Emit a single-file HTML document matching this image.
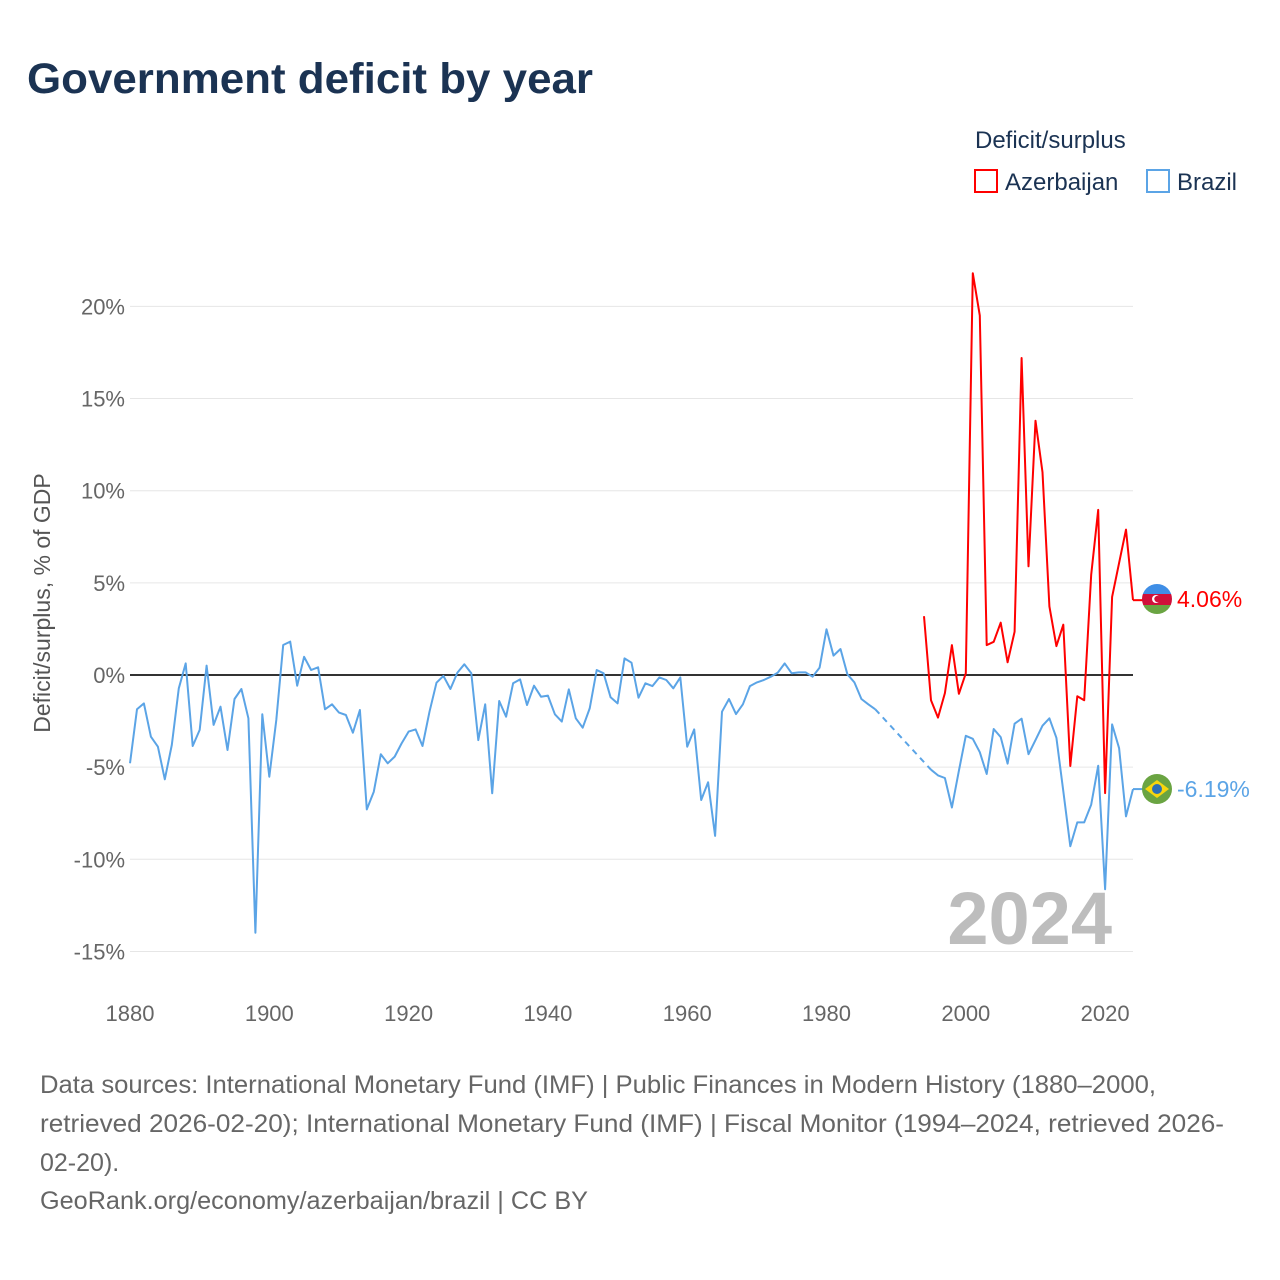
<!DOCTYPE html>
<html><head><meta charset="utf-8"><style>
html,body{margin:0;padding:0;background:#fff;width:1280px;height:1280px;overflow:hidden;font-family:"Liberation Sans",sans-serif}
</style></head><body>
<svg id="chart" width="1280" height="1280" xmlns="http://www.w3.org/2000/svg" style="position:absolute;left:0;top:0">
<text x="27" y="93" font-size="43" font-weight="bold" fill="#1b3353" textLength="566" lengthAdjust="spacingAndGlyphs" font-family="Liberation Sans, sans-serif">Government deficit by year</text>
<text x="975" y="148" font-size="24" fill="#1b3353">Deficit/surplus</text>
<g><rect x="975" y="170" width="22" height="22" fill="none" stroke="#ff0000" stroke-width="2"/><text x="1005" y="190" font-size="24" fill="#1b3353">Azerbaijan</text></g>
<g><rect x="1147" y="170" width="22" height="22" fill="none" stroke="#5ba4e6" stroke-width="2"/><text x="1177" y="190" font-size="24" fill="#1b3353">Brazil</text></g>
<text transform="translate(50,603) rotate(-90)" text-anchor="middle" font-size="23" fill="#555">Deficit/surplus, % of GDP</text>
<text x="1112" y="944" text-anchor="end" font-size="74" font-weight="bold" fill="#bdbdbd">2024</text>
<g id="grid"></g><g id="marks"></g>
<g>
<clipPath id="ca"><circle cx="1157" cy="599" r="15"/></clipPath>
<g clip-path="url(#ca)"><rect x="1140" y="583" width="34" height="11" fill="#3f8ee6"/><rect x="1140" y="594" width="34" height="11" fill="#d0103a"/><rect x="1140" y="605" width="34" height="12" fill="#6aa442"/></g>
<circle cx="1156" cy="599" r="4" fill="#fff"/><circle cx="1157.5" cy="599" r="3.2" fill="#d0103a"/>
</g>
<text x="1177" y="607" font-size="23" fill="#ff0000">4.06%</text>
<g>
<circle cx="1157" cy="789" r="15" fill="#6aa442"/><polygon points="1145,789 1157,780 1169,789 1157,798" fill="#f6d60e"/><circle cx="1157" cy="789" r="5" fill="#2c6fb6"/>
</g>
<text x="1177" y="797" font-size="23" fill="#5ba4e6">-6.19%</text>
<g font-size="25" fill="#666">
<text x="40" y="1093" textLength="1116" lengthAdjust="spacingAndGlyphs">Data sources: International Monetary Fund (IMF) | Public Finances in Modern History (1880–2000,</text>
<text x="40" y="1132" textLength="1184" lengthAdjust="spacingAndGlyphs">retrieved 2026-02-20); International Monetary Fund (IMF) | Fiscal Monitor (1994–2024, retrieved 2026-</text>
<text x="40" y="1171">02-20).</text>
<text x="40" y="1209" textLength="548" lengthAdjust="spacingAndGlyphs">GeoRank.org/economy/azerbaijan/brazil | CC BY</text>
</g>
</svg>
<script>
const yTicks=[20,15,10,5,0,-5,-10,-15];
const xTicks=[1880,1900,1920,1940,1960,1980,2000,2020];
const brazilYears1=[];for(let y=1880;y<=1987;y++)brazilYears1.push(y);
const brazilValues1=[-4.79,-1.86,-1.54,-3.35,-3.89,-5.66,-3.80,-0.72,0.63,-3.85,-2.98,0.51,-2.71,-1.72,-4.07,-1.30,-0.76,-2.35,-13.98,-2.13,-5.52,-2.44,1.63,1.81,-0.58,0.99,0.27,0.42,-1.86,-1.59,-2.04,-2.17,-3.13,-1.90,-7.29,-6.33,-4.30,-4.79,-4.43,-3.71,-3.07,-2.95,-3.85,-1.99,-0.42,-0.05,-0.76,0.13,0.58,0.09,-3.53,-1.59,-6.42,-1.41,-2.26,-0.45,-0.24,-1.63,-0.58,-1.18,-1.12,-2.13,-2.53,-0.78,-2.35,-2.86,-1.81,0.27,0.09,-1.21,-1.54,0.90,0.67,-1.23,-0.45,-0.60,-0.13,-0.27,-0.72,-0.13,-3.89,-2.95,-6.78,-5.82,-8.73,-1.99,-1.30,-2.12,-1.59,-0.60,-0.40,-0.27,-0.09,0.13,0.63,0.09,0.14,0.14,-0.09,0.40,2.48,1.05,1.41,0.04,-0.40,-1.30,-1.59,-1.86];
const brazilYears2=[];for(let y=1995;y<=2024;y++)brazilYears2.push(y);
const brazilValues2=[-5.14,-5.45,-5.59,-7.19,-5.19,-3.30,-3.46,-4.19,-5.37,-2.93,-3.37,-4.81,-2.64,-2.37,-4.30,-3.53,-2.75,-2.35,-3.41,-6.30,-9.29,-8.00,-8.00,-7.03,-4.92,-11.62,-2.68,-3.97,-7.67,-6.19];
const azYears=[];for(let y=1994;y<=2024;y++)azYears.push(y);
const azValues=[3.19,-1.37,-2.31,-0.98,1.62,-1.02,0.09,21.8,19.5,1.62,1.80,2.84,0.69,2.35,17.2,5.9,13.8,11.0,3.72,1.57,2.73,-4.94,-1.15,-1.37,5.45,8.96,-6.41,4.24,6.08,7.89,4.06];

const NS='http://www.w3.org/2000/svg';
const X0=130,X1=1133,Y0=675,PPU=18.43;
const xs=y=>X0+(y-1880)*(X1-X0)/144;
const ys=v=>Y0-v*PPU;
function mk(tag,attrs,parent){const e=document.createElementNS(NS,tag);for(const k in attrs)e.setAttribute(k,attrs[k]);parent.appendChild(e);return e;}
const grid=document.getElementById('grid'),marks=document.getElementById('marks');
yTicks.forEach(t=>{
 const l=mk('line',{x1:X0,x2:X1,y1:ys(t),y2:ys(t),stroke:t===0?'#333':'#e6e6e6','stroke-width':t===0?2:1},grid);
 
 
 const tx=mk('text',{x:125,y:ys(t)+8,'text-anchor':'end','font-size':22,fill:'#666'},grid);
 tx.textContent=t+'%';
 
 
});
xTicks.forEach(t=>{
 const tx=mk('text',{x:xs(t),y:1021,'text-anchor':'middle','font-size':22,fill:'#666'},grid);
 tx.textContent=t;
 
 
});
function pts(yrs,vals){return yrs.map((y,i)=>xs(y).toFixed(1)+','+ys(vals[i]).toFixed(1)).join(' ');}
const b1=mk('polyline',{points:pts(brazilYears1,brazilValues1),fill:'none',stroke:'#5ba4e6','stroke-width':2,'stroke-linejoin':'round'},marks);


const lastI=brazilYears1.length-1;
const bd=mk('line',{x1:xs(brazilYears1[lastI]),y1:ys(brazilValues1[lastI]),x2:xs(brazilYears2[0]),y2:ys(brazilValues2[0]),stroke:'#5ba4e6','stroke-width':2,'stroke-dasharray':'6,5'},marks);


const b2=mk('polyline',{points:pts(brazilYears2,brazilValues2),fill:'none',stroke:'#5ba4e6','stroke-width':2,'stroke-linejoin':'round'},marks);


const bl=brazilValues2[brazilValues2.length-1];
const bc=mk('line',{x1:X1,y1:ys(bl),x2:1143,y2:ys(bl),stroke:'#5ba4e6','stroke-width':2},marks);


const az=mk('polyline',{points:pts(azYears,azValues),fill:'none',stroke:'#ff0000','stroke-width':2,'stroke-linejoin':'round'},marks);


const al=azValues[azValues.length-1];
const ac=mk('line',{x1:X1,y1:ys(al),x2:1143,y2:ys(al),stroke:'#ff0000','stroke-width':2},marks);


</script>
</body></html>
